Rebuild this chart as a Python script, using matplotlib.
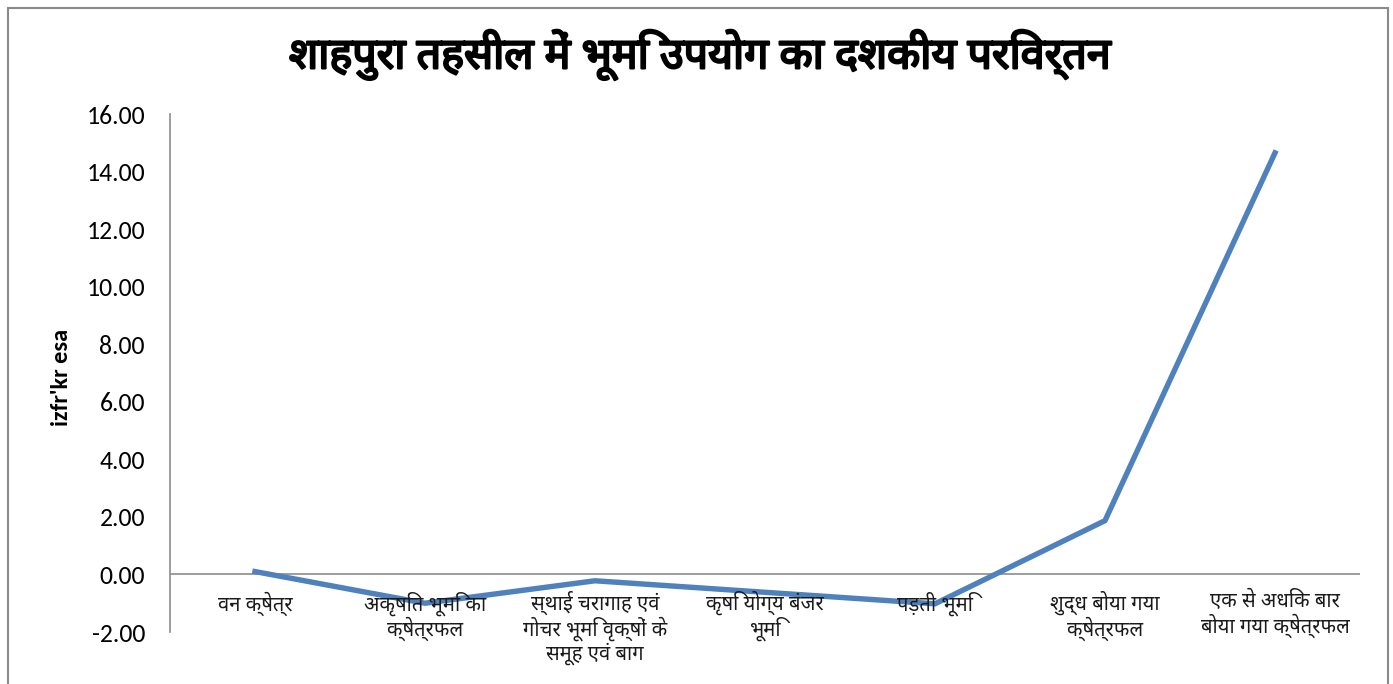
import matplotlib
matplotlib.use("Agg")
import matplotlib.pyplot as plt
from matplotlib import font_manager
from matplotlib.patches import Rectangle
from matplotlib.transforms import offset_copy
import matplotlib.patheffects as pe

categories = [
    "वन क्षेत्र",
    "अकृषित भूमि का\nक्षेत्रफल",
    "स्थाई चरागाह एवं\nगोचर भूमि वृक्षों के\nसमूह एवं बाग",
    "कृषि योग्य बंजर\nभूमि",
    "पड़ती भूमि",
    "शुद्ध बोया गया\nक्षेत्रफल",
    "एक से अधिक बार\nबोया गया क्षेत्रफल",
]
values = [0.10, -1.00, -0.22, -0.62, -1.02, 1.87, 14.65]
yticks = [-2, 0, 2, 4, 6, 8, 10, 12, 14, 16]
title = "शाहपुरा तहसील में भूमि उपयोग का दशकीय परिवर्तन"
ylabel = "izfr'kr esa"

available = {f.name for f in font_manager.fontManager.ttflist}


def pick(prefs, default):
    for p in prefs:
        if p in available:
            return p
    return default

deva = pick(["Noto Sans Devanagari", "Hind", "Mukta", "Amiko", "FreeSans"], "DejaVu Sans")
latin = pick(["Carlito", "Lato"], "DejaVu Sans")
deva_family = [deva, "DejaVu Sans"]

fig = plt.figure(figsize=(13.93, 6.84), dpi=100)
ax = fig.add_axes([170 / 1393, 1 - 632 / 684, (1360 - 170) / 1393, (632 - 114) / 684])

x = list(range(len(values)))
ax.plot(x, values, color="#4F81BD", lw=3.9, solid_joinstyle="miter", zorder=3)
ax.set_xlim(-0.5, len(values) - 0.5)
ax.set_ylim(-2, 16)
ax.set_yticks(yticks)
ax.set_yticklabels([f"{v:.2f}" for v in yticks], family=latin, fontsize=18.5)
ax.tick_params(axis="y", length=0, pad=18)
ax.set_xticks([])
for s in ["top", "right", "bottom"]:
    ax.spines[s].set_visible(False)
ax.spines["left"].set_color("#8C8C8C")
ax.spines["left"].set_linewidth(1.2)
ax.axhline(0, color="#8C8C8C", lw=1.2, zorder=2)

trans = offset_copy(ax.transData, fig=fig, x=0, y=-12, units="points")
for i, lab in enumerate(categories):
    ax.text(i, 0, lab, transform=trans, ha="center", va="top",
            family=deva_family, fontsize=14.5, linespacing=1.08, color="#1a1a1a")

fig.text(700 / 1393, 1 - 55 / 684, title, ha="center", va="center",
         family=deva_family, fontsize=31, fontweight="bold",
         path_effects=[pe.withStroke(linewidth=1.6, foreground="black")])
fig.text(62 / 1393, 1 - 377 / 684, ylabel, ha="center", va="center",
         rotation=90, family=latin, fontsize=17.5, fontweight="bold")

fig.patches.append(Rectangle((8 / 1393, -0.2), (1388 - 8) / 1393, 1.2 - 8 / 684,
                             transform=fig.transFigure, fill=False,
                             edgecolor="#8A8A8A", lw=1.5))

fig.savefig("out.png", dpi=100, facecolor="white")
